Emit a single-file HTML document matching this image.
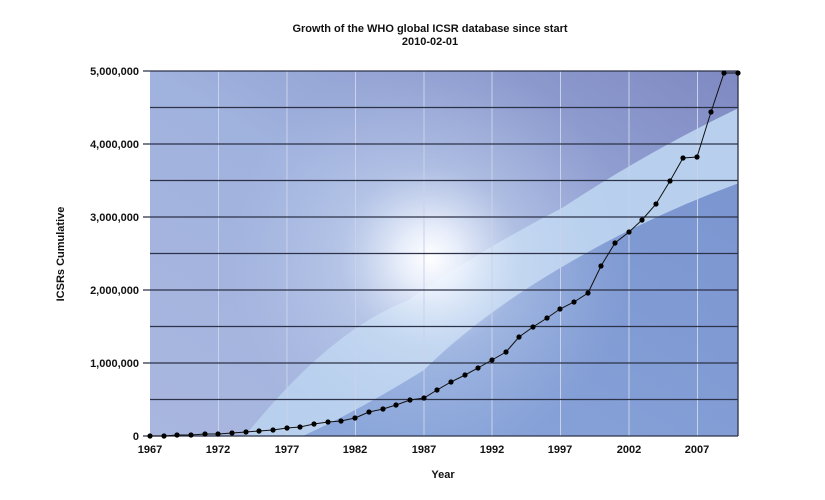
<!DOCTYPE html>
<html><head><style>
body{margin:0;background:#fff;width:825px;height:495px;overflow:hidden}
svg text{font-family:"Liberation Sans",Arial,sans-serif;font-weight:bold;fill:#111}
</style></head><body>
<svg width="825" height="495" viewBox="0 0 825 495" xmlns="http://www.w3.org/2000/svg">
<defs>
<linearGradient id="bg" x1="0" y1="1" x2="1" y2="0">
<stop offset="0" stop-color="#a9b7df"/><stop offset="0.5" stop-color="#a0b2de"/><stop offset="1" stop-color="#7f89c2"/>
</linearGradient>
<linearGradient id="low" x1="0" y1="1" x2="1" y2="0">
<stop offset="0" stop-color="#8aa6da"/><stop offset="1" stop-color="#7b95d0"/>
</linearGradient>
<radialGradient id="glow" cx="430" cy="258" r="200" gradientUnits="userSpaceOnUse">
<stop offset="0" stop-color="#ffffff" stop-opacity="1"/>
<stop offset="0.15" stop-color="#f4f8ff" stop-opacity="0.85"/>
<stop offset="0.45" stop-color="#d8e4f6" stop-opacity="0.35"/>
<stop offset="1" stop-color="#c0d0f0" stop-opacity="0"/>
</radialGradient>
<clipPath id="pc"><rect x="150" y="71" width="588" height="365"/></clipPath>
</defs>
<g clip-path="url(#pc)">
<rect x="150" y="71" width="588" height="365" fill="url(#bg)"/>
<path d="M245,436 Q330,330 407,301 Q480,250 562,208 Q650,150 745,105 L745,181 Q650,215 562,267 Q480,315 424,370 Q360,410 303,436 Z" fill="#b8d0ee"/>
<path d="M303,436 Q360,410 424,370 Q480,315 562,267 Q650,215 745,181 L745,440 L300,440 Z" fill="url(#low)"/>
<rect x="150" y="71" width="588" height="365" fill="url(#glow)"/>
</g>
<g stroke="#c9d2ea" stroke-width="1">
<line x1="218.5" y1="71" x2="218.5" y2="436"/><line x1="287" y1="71" x2="287" y2="436"/>
<line x1="355.5" y1="71" x2="355.5" y2="436"/><line x1="424" y1="71" x2="424" y2="436"/>
<line x1="492" y1="71" x2="492" y2="436"/><line x1="560.5" y1="71" x2="560.5" y2="436"/>
<line x1="629" y1="71" x2="629" y2="436"/><line x1="697.5" y1="71" x2="697.5" y2="436"/>
</g>
<g stroke="#2c3248" stroke-width="1.3">
<line x1="143" y1="71" x2="738" y2="71"/><line x1="150" y1="107.5" x2="738" y2="107.5"/>
<line x1="143" y1="144" x2="738" y2="144"/><line x1="150" y1="180.5" x2="738" y2="180.5"/>
<line x1="143" y1="217" x2="738" y2="217"/><line x1="150" y1="253.5" x2="738" y2="253.5"/>
<line x1="143" y1="290" x2="738" y2="290"/><line x1="150" y1="326.5" x2="738" y2="326.5"/>
<line x1="143" y1="363" x2="738" y2="363"/><line x1="150" y1="399.5" x2="738" y2="399.5"/>
<line x1="143" y1="436" x2="738" y2="436"/>
<line x1="738" y1="71" x2="738" y2="436"/>
</g>
<g font-size="11" text-anchor="end">
<text x="139" y="75">5,000,000</text><text x="139" y="148">4,000,000</text>
<text x="139" y="221">3,000,000</text><text x="139" y="294">2,000,000</text>
<text x="139" y="367">1,000,000</text><text x="139" y="440">0</text>
</g>
<g font-size="11" text-anchor="middle">
<text x="150" y="453">1967</text><text x="218" y="453">1972</text><text x="287" y="453">1977</text>
<text x="355" y="453">1982</text><text x="424" y="453">1987</text><text x="492" y="453">1992</text>
<text x="560" y="453">1997</text><text x="629" y="453">2002</text><text x="697" y="453">2007</text>
<text x="443" y="478">Year</text>
<text x="430" y="32">Growth of the WHO global ICSR database since start</text>
<text x="430" y="45">2010-02-01</text>
<text transform="translate(64,254) rotate(-90)">ICSRs Cumulative</text>
</g>
<g fill="#000" stroke="#111" stroke-width="1">
<polyline fill="none" points="150,436 164,436 177,435 191,435 205,434 218,434 232,433 246,432 259,431 273,430 287,428 300,427 314,424 328,422 341,421 355,418 369,412 383,409 396,405 410,400 424,398 437,390 451,382 465,375 478,368 492,360 506,352 519,337 533,327 547,318 560,309 574,302 588,293 601,266 615,243 629,232 642,220 656,204 670,181 683,158 697,157 711,112 724,73 738,73"/>
</g>
<g fill="#000">
<circle cx="150" cy="436" r="2.6"/><circle cx="164" cy="436" r="2.6"/><circle cx="177" cy="435" r="2.6"/><circle cx="191" cy="435" r="2.6"/><circle cx="205" cy="434" r="2.6"/><circle cx="218" cy="434" r="2.6"/><circle cx="232" cy="433" r="2.6"/><circle cx="246" cy="432" r="2.6"/><circle cx="259" cy="431" r="2.6"/><circle cx="273" cy="430" r="2.6"/><circle cx="287" cy="428" r="2.6"/><circle cx="300" cy="427" r="2.6"/><circle cx="314" cy="424" r="2.6"/><circle cx="328" cy="422" r="2.6"/><circle cx="341" cy="421" r="2.6"/><circle cx="355" cy="418" r="2.6"/><circle cx="369" cy="412" r="2.6"/><circle cx="383" cy="409" r="2.6"/><circle cx="396" cy="405" r="2.6"/><circle cx="410" cy="400" r="2.6"/><circle cx="424" cy="398" r="2.6"/><circle cx="437" cy="390" r="2.6"/><circle cx="451" cy="382" r="2.6"/><circle cx="465" cy="375" r="2.6"/><circle cx="478" cy="368" r="2.6"/><circle cx="492" cy="360" r="2.6"/><circle cx="506" cy="352" r="2.6"/><circle cx="519" cy="337" r="2.6"/><circle cx="533" cy="327" r="2.6"/><circle cx="547" cy="318" r="2.6"/><circle cx="560" cy="309" r="2.6"/><circle cx="574" cy="302" r="2.6"/><circle cx="588" cy="293" r="2.6"/><circle cx="601" cy="266" r="2.6"/><circle cx="615" cy="243" r="2.6"/><circle cx="629" cy="232" r="2.6"/><circle cx="642" cy="220" r="2.6"/><circle cx="656" cy="204" r="2.6"/><circle cx="670" cy="181" r="2.6"/><circle cx="683" cy="158" r="2.6"/><circle cx="697" cy="157" r="2.6"/><circle cx="711" cy="112" r="2.6"/><circle cx="724" cy="73" r="2.6"/><circle cx="738" cy="73" r="2.6"/>
</g>
</svg>
</body></html>
